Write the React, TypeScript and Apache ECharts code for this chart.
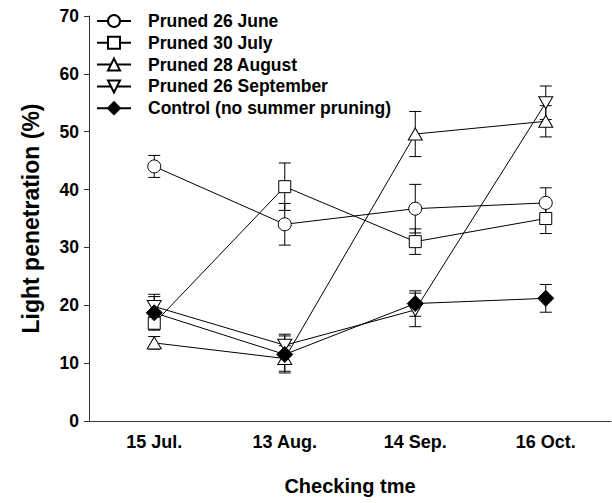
import React, { useEffect, useRef } from "react";
import * as echarts from "echarts";

const categories = ["15 Jul.", "13 Aug.", "14 Sep.", "16 Oct."];
const seriesNames = [
  "Pruned 26 June",
  "Pruned 30 July",
  "Pruned 28 August",
  "Pruned 26 September",
  "Control (no summer pruning)",
];
const june = [44.0, 34.0, 36.7, 37.7];
const juneErr = [1.9, 3.6, 4.2, 2.6];
const july = [16.9, 40.5, 31.0, 35.0];
const julyErr = [1.2, 4.1, 2.2, 2.6];
const august = [13.5, 10.8, 49.6, 51.8];
const augustErr = [1.1, 2.2, 3.9, 2.7];
const september = [19.8, 13.1, 19.2, 55.0];
const septemberErr = [2.1, 1.9, 2.9, 2.9];
const control = [18.7, 11.5, 20.3, 21.2];
const controlErr = [2.8, 3.2, 2.2, 2.4];
const yTicks = [0, 10, 20, 30, 40, 50, 60, 70];

const FONT = "'Liberation Sans', Arial, sans-serif";

export default function App() {
  const ref = useRef<HTMLDivElement>(null);
  useEffect(() => {
    if (!ref.current) return;
    const chart = echarts.init(ref.current, undefined, { renderer: "svg" });
    const values = [june, july, august, september, control];
    const errs = [juneErr, julyErr, augustErr, septemberErr, controlErr];
    const symbols = [
      "circle",
      "rect",
      "triangle",
      "path://M0,0L2,0L1,1.7Z",
      "diamond",
    ];
    const sizes: any[] = [13, 12, [14, 12], [14, 12], 16];
    const fills = ["#fff", "#fff", "#fff", "#fff", "#000"];

    const errorSeries = values.map((vals, si) => ({
      type: "custom",
      z: 1,
      silent: true,
      data: vals.map((v, i) => [i, v - errs[si][i], v + errs[si][i]]),
      renderItem: (params: any, api: any) => {
        const x = api.value(0);
        const lo = api.coord([x, api.value(1)]);
        const hi = api.coord([x, api.value(2)]);
        const cap = 6;
        const style = { stroke: "#000", lineWidth: 1 };
        return {
          type: "group",
          children: [
            { type: "line", shape: { x1: lo[0], y1: lo[1], x2: hi[0], y2: hi[1] }, style },
            { type: "line", shape: { x1: lo[0] - cap, y1: lo[1], x2: lo[0] + cap, y2: lo[1] }, style },
            { type: "line", shape: { x1: hi[0] - cap, y1: hi[1], x2: hi[0] + cap, y2: hi[1] }, style },
          ],
        };
      },
    }));

    const lineSeries = values.map((vals, si) => ({
      name: seriesNames[si],
      type: "line",
      z: 3,
      data: vals,
      symbol: symbols[si],
      symbolSize: sizes[si],
      showAllSymbol: true,
      lineStyle: { color: "#000", width: 1 },
      itemStyle: { color: fills[si], borderColor: "#000", borderWidth: 1, opacity: 1 },
    }));

    chart.setOption({
      animation: false,
      backgroundColor: "#fff",
      textStyle: { fontFamily: FONT },
      grid: { left: 89, right: 1, top: 16, bottom: 82, containLabel: false },
      legend: {
        data: seriesNames,
        orient: "vertical",
        left: 91,
        top: 7,
        padding: 5,
        itemWidth: 34,
        itemHeight: 15,
        itemGap: 3.8,
        selectedMode: false,
        textStyle: {
          fontFamily: FONT,
          fontWeight: "bold",
          fontSize: 17.5,
          color: "#000",
          padding: [0, 0, 0, 12],
        },
      },
      xAxis: {
        type: "category",
        data: categories,
        boundaryGap: true,
        name: "Checking tme",
        nameLocation: "middle",
        nameGap: 55,
        nameTextStyle: { fontFamily: FONT, fontWeight: "bold", fontSize: 20, color: "#000" },
        axisLine: { lineStyle: { color: "#333", width: 1 } },
        axisTick: { alignWithLabel: true, length: 5, lineStyle: { color: "#333" } },
        axisLabel: { fontFamily: FONT, fontWeight: "bold", fontSize: 18, color: "#000", margin: 12 },
        splitLine: { show: false },
      },
      yAxis: {
        type: "value",
        min: yTicks[0],
        max: yTicks[yTicks.length - 1],
        interval: 10,
        name: "Light penetration (%)",
        nameLocation: "middle",
        nameGap: 47,
        nameTextStyle: { fontFamily: FONT, fontWeight: "bold", fontSize: 23, color: "#000" },
        axisLine: { show: true, lineStyle: { color: "#333", width: 1 } },
        axisTick: { show: true, length: 5, lineStyle: { color: "#333" } },
        axisLabel: { fontFamily: FONT, fontWeight: "bold", fontSize: 17.5, color: "#000", margin: 10 },
        splitLine: { show: false },
      },
      series: [...errorSeries, ...lineSeries],
    });
    return () => chart.dispose();
  }, []);
  return (
    <div
      ref={ref}
      style={{ position: "absolute", left: 0, top: 0, width: 612, height: 503, background: "#fff" }}
    />
  );
}
